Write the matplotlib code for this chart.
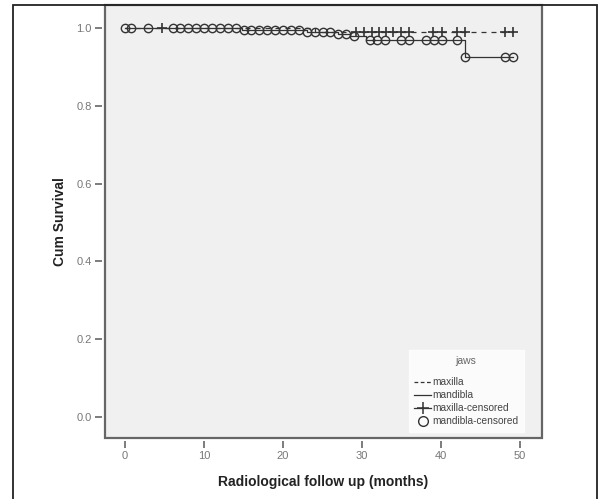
import numpy as np
import matplotlib
matplotlib.use("Agg")
import matplotlib.pyplot as plt
from matplotlib.lines import Line2D
from matplotlib.patches import Rectangle

plt.rcParams['font.family'] = ['Liberation Sans', 'DejaVu Sans']

# Kaplan-Meier step curves (time in months, cumulative survival)
maxilla_times = [0, 24.0, 49.1]
maxilla_surv = [1.0, 0.99, 0.99]
mandibula_times = [0, 14.8, 23.0, 27.0, 28.5, 30.5, 43.0, 49.1]
mandibula_surv = [1.0, 0.995, 0.99, 0.985, 0.98, 0.968, 0.925, 0.925]

# censored observations
maxilla_censored = [4.7, 29.3, 30.3, 31.3, 32.2, 33.1, 33.9, 35.0, 36.0,
                    39.0, 40.1, 42.0, 43.0, 48.1, 49.1]
mandibula_censored = [0, 0.8, 2.9, 6, 7, 8, 9, 10, 11, 12, 13, 14, 15, 16, 17,
                      18, 19, 20, 21, 22, 23, 24, 25, 26, 27, 28, 29,
                      31.0, 31.9, 32.9, 35.0, 36.0, 38.1, 39.1, 40.1, 42.0,
                      43.1, 48.1, 49.1]

x_ticks = [0, 10, 20, 30, 40, 50]
y_ticks = [0.0, 0.2, 0.4, 0.6, 0.8, 1.0]


def surv_at(times, surv, t):
    idx = np.searchsorted(times, t, side='right') - 1
    return np.array(surv)[idx]


ink = '#333333'
fig = plt.figure(figsize=(6.02, 4.99), dpi=100)
fig.patch.set_facecolor('white')
ax = fig.add_axes([105 / 602, 1 - 438 / 499, 437 / 602, 433 / 499])
ax.set_facecolor('#f0f0f0')

ax.step(maxilla_times, maxilla_surv, where='post', color=ink, lw=0.9,
        linestyle=(0, (4, 4)))
ax.step(mandibula_times, mandibula_surv, where='post', color=ink, lw=0.9)

ax.plot(maxilla_censored, surv_at(maxilla_times, maxilla_surv, maxilla_censored),
        linestyle='none', marker='+', markersize=6.5, mew=1.2, color=ink)
ax.plot(mandibula_censored, surv_at(mandibula_times, mandibula_surv, mandibula_censored),
        linestyle='none', marker='o', markersize=6, mew=1.0,
        markerfacecolor='none', markeredgecolor=ink)

ax.set_xlim(-2.55, 52.8)
ax.set_ylim(-0.054, 1.059)
ax.set_xticks(x_ticks)
ax.set_yticks(y_ticks)
ax.set_yticklabels([f'{v:.1f}' for v in y_ticks])

for side in ['left', 'bottom']:
    ax.spines[side].set_position(('outward', 2.5))
    ax.spines[side].set_color('none')
for side in ['top', 'right']:
    ax.spines[side].set_color('none')
ax.add_patch(Rectangle((0, 0), 1, 1, transform=ax.transAxes, fill=False,
                       edgecolor='#666666', lw=1.6, clip_on=False, zorder=5))

ax.tick_params(direction='out', length=5, width=1.2, color='#666666',
               labelsize=8, labelcolor='#777777', pad=2)

ax.set_xlabel('Radiological follow up (months)', fontsize=10, fontweight='bold',
              color='#222222', labelpad=10)
ax.set_ylabel('Cum Survival', fontsize=10, fontweight='bold',
              color='#222222', labelpad=7)

handles = [
    Line2D([], [], color=ink, lw=0.9, linestyle=(0, (3, 2))),
    Line2D([], [], color=ink, lw=0.9),
    Line2D([], [], color=ink, lw=0.9, marker='+', markersize=9, mew=1.1),
    Line2D([], [], linestyle='none', marker='o', markersize=7, mew=1.0,
           markerfacecolor='none', markeredgecolor=ink),
]
labels = ['maxilla', 'mandibla', 'maxilla-censored', 'mandibla-censored']
leg = ax.legend(handles, labels, title='jaws\n', loc='lower right',
                bbox_to_anchor=(0.958, 0.014), fontsize=7.3, title_fontsize=7.5,
                frameon=True, fancybox=False, handlelength=1.7,
                handletextpad=0.05, labelspacing=0.3, borderpad=0.55,
                borderaxespad=0)
leg.get_frame().set_facecolor('white')
leg.get_frame().set_edgecolor('white')
leg.get_title().set_linespacing(0.8)
for t in leg.get_texts():
    t.set_color('#444444')
leg.get_title().set_color('#666666')

# outer frame around the whole chart
fig.patches.append(Rectangle((13 / 602, -0.05), 584 / 602, 1 - 5 / 499 + 0.05,
                             transform=fig.transFigure, fill=False,
                             edgecolor='#222222', lw=1.3))

fig.savefig('out.png', dpi=100)
